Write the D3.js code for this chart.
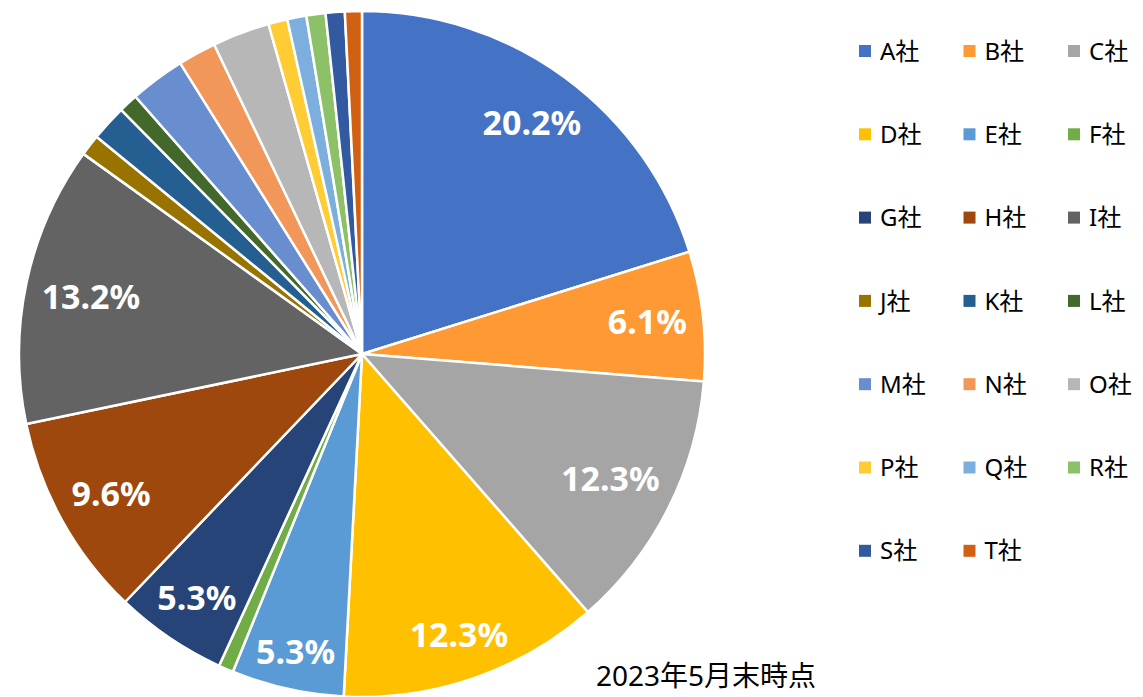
<!DOCTYPE html>
<html>
<head>
<meta charset="utf-8">
<script src="https://cdn.jsdelivr.net/npm/d3@7/dist/d3.min.js"></script>
<style>
  body { margin: 0; background: #fff; }
  svg { display: block; font-family: "Noto Sans", "Noto Sans CJK JP", sans-serif; }
</style>
</head>
<body>
<svg id="chart" width="1143" height="697"></svg>
<script>
  var width = 1143, height = 697

  var companies = ["A社","B社","C社","D社","E社","F社","G社","H社","I社","J社",
                   "K社","L社","M社","N社","O社","P社","Q社","R社","S社","T社"]
  var shares = [20.2, 6.1, 12.3, 12.3, 5.3, 0.7, 5.3, 9.6, 13.2, 1.0,
                1.7, 0.9, 2.6, 1.8, 2.7, 0.9, 0.9, 0.9, 0.9, 0.8]
  var colors = ["#4472c4","#ff9933","#a5a5a5","#ffc000","#5b9bd5","#70ad47",
                "#264478","#9e480e","#636363","#997300","#255e91","#43682b",
                "#698ed0","#f1975a","#b7b7b7","#ffcd33","#7cafdd","#8cc168",
                "#335aa1","#d26012"]
  var shownLabels = ["A社","B社","C社","D社","E社","G社","H社","I社"]
  var note = "2023年5月末時点"

  var cx = 362, cy = 354, radius = 343

  var svg = d3.select("#chart")
  var g = svg.append("g").attr("transform", "translate(" + cx + "," + cy + ")")

  var color = d3.scaleOrdinal().domain(companies).range(colors)

  var pie = d3.pie().sort(null).value(function(d) { return d.value })
  var data = companies.map(function(c, i) { return { name: c, value: shares[i] } })
  var arcs = pie(data)
  var total = d3.sum(shares)

  var arc = d3.arc().innerRadius(0).outerRadius(radius)

  g.selectAll("path.slice")
    .data(arcs)
    .enter()
    .append("path")
    .attr("class", "slice")
    .attr("d", arc)
    .attr("fill", function(d) { return color(d.data.name) })
    .attr("stroke", "#fff")
    .attr("stroke-width", 2.5)
    .attr("stroke-linejoin", "round")

  // labels placed "inside end": push out until the far corner of the box reaches the edge margin
  var edge = radius - 15
  var labels = g.selectAll("text.pct")
    .data(arcs.filter(function(d) { return shownLabels.indexOf(d.data.name) >= 0 }))
    .enter()
    .append("text")
    .attr("class", "pct")
    .attr("text-anchor", "middle")
    .attr("dy", "0.36em")
    .attr("fill", "#fff")
    .attr("font-weight", "bold")
    .attr("font-size", 34)
    .text(function(d) { return (d.data.value / total * 100).toFixed(1) + "%" })

  labels.each(function(d) {
    var box = this.getBBox()
    var hw = box.width / 2, hh = 13
    var a = (d.startAngle + d.endAngle) / 2
    var ux = Math.sin(a), uy = -Math.cos(a)
    var lo = 0, hi = radius
    for (var k = 0; k < 30; k++) {
      var r = (lo + hi) / 2
      var px = r * ux, py = r * uy
      var far = Math.sqrt(Math.pow(Math.abs(px) + hw, 2) + Math.pow(Math.abs(py) + hh, 2))
      if (far > edge) hi = r; else lo = r
    }
    d3.select(this).attr("transform", "translate(" + (lo * ux) + "," + (lo * uy) + ")")
  })

  // legend, 3 columns
  var legend = svg.append("g")
  var item = legend.selectAll("g.item")
    .data(companies)
    .enter()
    .append("g")
    .attr("class", "item")
    .attr("transform", function(d, i) {
      return "translate(" + (859 + (i % 3) * 104.5) + "," + (51 + Math.floor(i / 3) * 83.3) + ")"
    })
  item.append("rect")
    .attr("x", 0).attr("y", -6)
    .attr("width", 12).attr("height", 12)
    .attr("fill", function(d) { return color(d) })
  item.append("text")
    .attr("x", 21)
    .attr("dy", "0.36em")
    .attr("font-size", 24)
    .attr("fill", "#000")
    .text(function(d) { return d })

  svg.append("text")
    .attr("x", 596)
    .attr("y", 686)
    .attr("font-size", 28)
    .attr("fill", "#000")
    .text(note)
</script>
</body>
</html>
